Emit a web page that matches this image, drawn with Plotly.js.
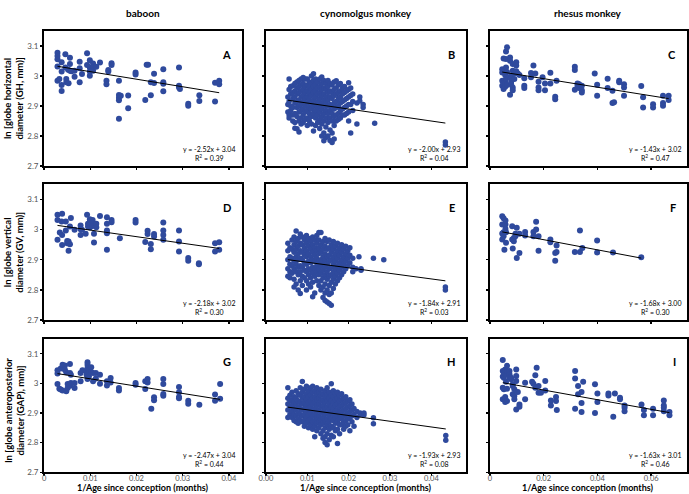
<!DOCTYPE html>
<html>
<head>
<meta charset="utf-8">
<script src="https://cdn.plot.ly/plotly-3.0.1.min.js"></script>
<style>
	html, body { margin: 0; padding: 0; background: #fff; }
	#plotDiv { width: 689px; height: 494px; }
</style>
</head>
<body>
<div id="plotDiv"></div>
<script>
// Labels
const speciesNames = ["baboon", "cynomolgus monkey", "rhesus monkey"];
const rowTitles = [
	"ln [globe horizontal<br>diameter (GH, mm)]",
	"ln [globe vertical<br>diameter (GV, mm)]",
	"ln [globe anteroposterior<br>diameter (GAP), mm)]",
];
const xTitle = "1/Age since conception (months)";
const panelLetters = ["A", "B", "C", "D", "E", "F", "G", "H", "I"];

// Regression results printed in each panel
const slopes = [-2.52, -2.0, -1.43, -2.18, -1.84, -1.68, -2.47, -1.93, -1.63];
const intercepts = [3.04, 2.93, 3.02, 3.02, 2.91, 3.0, 3.04, 2.93, 3.01];
const rSquared = ["0.39", "0.04", "0.47", "0.30", "0.03", "0.30", "0.44", "0.08", "0.46"];

// Axis ticks
const yTickVals = [2.7, 2.8, 2.9, 3.0, 3.1];
const yTickText = ["2.7", "2.8", "2.9", "3", "3.1"];
const xTickVals = [
	[0, 0.01, 0.02, 0.03, 0.04],
	[0, 0.01, 0.02, 0.03, 0.04],
	[0, 0.02, 0.04, 0.06],
];
const xTickText = [
	["0", "0.01", "0.02", "0.03", "0.04"],
	["0.00", "0.01", "0.02", "0.03", "0.04"],
	["0", "0.02", "0.04", "0.06"],
];
const xMax = [0.0428, 0.0485, 0.0733];

// Data: [1/age, [ln values at that 1/age]]
const baboonGH = [
	[0.0029, [3.078, 3.067, 3.056, 3.032, 2.984]], [0.0033, [2.99]],
	[0.0038, [3.046, 3.015, 2.97, 2.95]], [0.0046, [3.073, 3.029]],
	[0.0048, [2.99, 2.979]], [0.0052, [3.021]], [0.0053, [2.976]],
	[0.0056, [3.061, 3.04, 3.018]], [0.0059, [3.016]], [0.0066, [2.998, 3.018]],
	[0.0077, [3.048, 3.026, 2.979]], [0.0082, [3.007]], [0.0093, [3.076, 3.037]],
	[0.0099, [3.053, 3.029, 3.015, 3.001]], [0.0106, [3.042, 3.029, 3.018]],
	[0.0113, [3.031]], [0.0121, [3.045]], [0.0135, [2.984, 2.973]],
	[0.0139, [3.02, 3.015]], [0.0146, [3.043, 3.037]],
	[0.0162, [2.984, 2.937, 2.928, 2.919, 2.858]], [0.0166, [2.934]],
	[0.0182, [2.935, 2.893]], [0.0198, [3.012, 3.005]], [0.0219, [2.92]],
	[0.0222, [3.038]], [0.0225, [3.038]], [0.0231, [2.979, 2.936]],
	[0.0238, [3.008, 2.977]], [0.0258, [3.023, 2.979, 2.974, 2.949]],
	[0.0292, [3.029, 2.968, 2.962]], [0.0294, [2.957]], [0.0312, [2.908, 2.901]],
	[0.0336, [2.936, 2.917]], [0.037, [2.978, 2.915]], [0.0379, [2.984, 2.973]],
];
const baboonGV = [
	[0.0029, [3.049, 3.032, 2.966]], [0.0034, [2.99]], [0.0038, [3.027]],
	[0.0039, [3.052, 2.982, 2.949]], [0.0047, [3.027, 2.997]], [0.005, [2.962, 2.955]],
	[0.0053, [2.96, 2.93]], [0.0056, [3.01, 2.951]], [0.0058, [3.038]], [0.0066, [2.999]],
	[0.0079, [3.013, 3.001, 2.982]], [0.0082, [2.999]], [0.009, [2.986]], [0.0093, [3.049]],
	[0.0095, [3.019, 3.01]], [0.0099, [3.034, 3.027, 3.015, 3.007]],
	[0.0105, [3.032, 3.023, 3.012]], [0.0108, [2.957, 2.986]], [0.0113, [3.019, 3.008]],
	[0.0121, [3.045]], [0.0136, [3.041, 3.019, 2.997, 2.988, 2.933]],
	[0.0146, [3.032, 3.024]], [0.0164, [2.971]], [0.0198, [3.032, 3.023]],
	[0.0219, [2.959]], [0.0224, [2.996, 2.985]], [0.0231, [2.952, 2.935]],
	[0.0238, [2.985, 2.977]], [0.0258, [3.023, 2.997, 2.982, 2.966]],
	[0.0292, [2.997, 2.96, 2.927]], [0.0312, [2.906, 2.897]], [0.0335, [2.888, 2.885]],
	[0.037, [2.955, 2.927]], [0.0379, [2.958, 2.933]],
];
const baboonGAP = [
	[0.0029, [3.044, 3.033, 2.998]], [0.0033, [2.982]], [0.0036, [3.05, 2.979]],
	[0.004, [3.063, 2.976]], [0.0045, [3.06, 3.046]], [0.0048, [3.037, 2.973]],
	[0.0051, [2.998, 2.984]], [0.0056, [3.065, 3.035, 2.992]], [0.0058, [3.029, 3.001]],
	[0.0066, [3.001, 2.984]], [0.0079, [3.035, 3.007]], [0.0083, [3.044]],
	[0.0092, [3.041, 3.029]], [0.0094, [3.071, 3.063, 3.052, 3.024, 3.015]],
	[0.0097, [3.046, 3.035, 3.024]], [0.0102, [3.054, 3.037]], [0.0106, [3.035, 3.007]],
	[0.0112, [3.035, 3.016]], [0.0121, [3.029, 2.999]], [0.0136, [3.007, 2.993]],
	[0.0144, [3.018, 3.003]], [0.0162, [2.984, 2.976]], [0.0198, [3.001, 2.995]],
	[0.0219, [3.007, 2.981]], [0.0224, [3.015, 3.003]], [0.0232, [2.914]],
	[0.0238, [2.953, 2.943]], [0.0258, [3.015, 2.998, 2.964, 2.958]],
	[0.0292, [2.988, 2.97, 2.954, 2.95]], [0.0312, [2.941, 2.931]], [0.0336, [2.928]],
	[0.037, [2.962, 2.941]], [0.0381, [2.998, 2.948]],
];

const cynoGH = [
	[0.0053, [2.93, 2.905, 2.88]], [0.0056, [2.99, 2.955, 2.915, 2.87, 2.86]],
	[0.006, [2.965, 2.94, 2.9, 2.885]],
	[0.0065, [2.968, 2.945, 2.925, 2.895, 2.87, 2.85]],
	[0.007, [2.975, 2.95, 2.93, 2.91, 2.875, 2.845, 2.826]],
	[0.0075, [2.98, 2.96, 2.94, 2.915, 2.895, 2.865, 2.824]],
	[0.008, [2.985, 2.965, 2.945, 2.92, 2.9, 2.88, 2.85, 2.813]],
	[0.0085, [2.99, 2.97, 2.95, 2.93, 2.905, 2.885, 2.86, 2.84]],
	[0.009, [2.995, 2.975, 2.955, 2.935, 2.915, 2.89, 2.87, 2.845]],
	[0.0095, [2.99, 2.965, 2.945, 2.925, 2.9, 2.88, 2.855]],
	[0.01, [2.99, 2.97, 2.95, 2.93, 2.91, 2.885, 2.86, 2.835]],
	[0.0105, [2.98, 2.96, 2.94, 2.92, 2.895, 2.875, 2.85]],
	[0.011, [3.0, 2.975, 2.955, 2.935, 2.91, 2.89, 2.865, 2.84]],
	[0.0115, [3.008, 2.985, 2.965, 2.945, 2.92, 2.9, 2.875, 2.817]],
	[0.012, [2.99, 2.97, 2.95, 2.93, 2.905, 2.885, 2.86, 2.835]],
	[0.0125, [2.98, 2.96, 2.94, 2.915, 2.895, 2.87, 2.845]],
	[0.013, [2.99, 2.965, 2.945, 2.925, 2.9, 2.88, 2.855, 2.825]],
	[0.0135, [2.997, 2.975, 2.955, 2.935, 2.91, 2.89, 2.865, 2.84, 2.8]],
	[0.014, [2.985, 2.96, 2.94, 2.92, 2.9, 2.875, 2.85, 2.81, 2.784]],
	[0.0145, [2.975, 2.955, 2.93, 2.91, 2.885, 2.86, 2.83, 2.795]],
	[0.015, [2.985, 2.965, 2.945, 2.92, 2.9, 2.875, 2.845, 2.8]],
	[0.0155, [2.975, 2.95, 2.93, 2.905, 2.885, 2.86, 2.82, 2.785]],
	[0.016, [2.97, 2.945, 2.925, 2.9, 2.875, 2.85, 2.81, 2.778]],
	[0.0165, [2.98, 2.955, 2.935, 2.91, 2.89, 2.865, 2.835, 2.79]],
	[0.017, [2.984, 2.96, 2.94, 2.915, 2.895, 2.87, 2.85]],
	[0.0175, [2.97, 2.945, 2.925, 2.9, 2.875, 2.855]],
	[0.018, [2.975, 2.95, 2.93, 2.91, 2.885, 2.86]],
	[0.0185, [2.96, 2.94, 2.915, 2.89, 2.87]],
	[0.019, [2.965, 2.945, 2.92, 2.895, 2.87]],
	[0.0195, [2.95, 2.925, 2.9, 2.875]],
	[0.02, [2.978, 2.955, 2.93, 2.905, 2.88, 2.85]],
	[0.0205, [2.96, 2.935, 2.905, 2.81]], [0.021, [2.94, 2.915, 2.885]],
	[0.022, [2.91, 2.84]], [0.0227, [2.93, 2.917]], [0.0235, [2.905, 2.895]],
	[0.0263, [2.843]], [0.0434, [2.78, 2.77]],
];
const cynoGV = [
	[0.0053, [2.955, 2.93, 2.9, 2.87, 2.845]], [0.0058, [2.94, 2.91, 2.885, 2.86, 2.84]],
	[0.0063, [2.965, 2.935, 2.905, 2.88, 2.855]],
	[0.0068, [2.975, 2.95, 2.925, 2.895, 2.87, 2.835, 2.81]],
	[0.0073, [2.995, 2.96, 2.935, 2.91, 2.885, 2.86, 2.82]],
	[0.0078, [2.97, 2.945, 2.92, 2.9, 2.875, 2.85, 2.8]],
	[0.0083, [2.985, 2.955, 2.93, 2.905, 2.88, 2.86, 2.83, 2.788]],
	[0.0088, [2.975, 2.95, 2.925, 2.9, 2.875, 2.845, 2.815]],
	[0.0093, [2.965, 2.94, 2.915, 2.89, 2.865, 2.84]],
	[0.0098, [2.98, 2.955, 2.93, 2.91, 2.885, 2.86, 2.83, 2.8]],
	[0.0103, [2.97, 2.945, 2.92, 2.895, 2.87, 2.85, 2.82]],
	[0.0108, [2.96, 2.935, 2.91, 2.89, 2.865, 2.84, 2.81]],
	[0.0113, [2.975, 2.95, 2.925, 2.9, 2.875, 2.855, 2.825, 2.777]],
	[0.0118, [2.965, 2.94, 2.915, 2.895, 2.87, 2.845, 2.79]],
	[0.0123, [2.98, 2.955, 2.93, 2.905, 2.88, 2.86, 2.83]],
	[0.0128, [2.99, 2.965, 2.94, 2.92, 2.895, 2.87, 2.85, 2.815]],
	[0.0133, [2.99, 2.95, 2.925, 2.9, 2.88, 2.855, 2.83, 2.8]],
	[0.0138, [2.96, 2.935, 2.91, 2.89, 2.865, 2.84, 2.81, 2.775]],
	[0.0143, [2.97, 2.945, 2.92, 2.9, 2.875, 2.85, 2.82, 2.79, 2.765]],
	[0.0148, [2.96, 2.935, 2.91, 2.885, 2.86, 2.835, 2.8, 2.76]],
	[0.0153, [2.965, 2.94, 2.915, 2.895, 2.87, 2.845, 2.815, 2.785, 2.755]],
	[0.0158, [2.95, 2.925, 2.9, 2.875, 2.85, 2.825, 2.79, 2.749]],
	[0.0163, [2.96, 2.935, 2.91, 2.885, 2.86, 2.835, 2.805]],
	[0.0168, [2.945, 2.92, 2.895, 2.87, 2.845, 2.82]],
	[0.0173, [2.955, 2.93, 2.905, 2.88, 2.855, 2.83]],
	[0.0178, [2.94, 2.915, 2.89, 2.865, 2.84]],
	[0.0183, [2.95, 2.925, 2.9, 2.875, 2.85]],
	[0.0188, [2.935, 2.91, 2.885, 2.86]],
	[0.0193, [2.945, 2.92, 2.895, 2.87]],
	[0.0198, [2.93, 2.905, 2.88]], [0.0203, [2.94, 2.915, 2.89]],
	[0.021, [2.905, 2.875, 2.86]], [0.0218, [2.87]], [0.0225, [2.91]],
	[0.023, [2.87, 2.865]], [0.026, [2.905]], [0.0285, [2.9]], [0.0434, [2.81, 2.8]],
];
const cynoGAP = [
	[0.0053, [2.985, 2.95, 2.93, 2.91, 2.885]], [0.0058, [2.96, 2.94, 2.92, 2.895]],
	[0.0063, [2.97, 2.945, 2.925, 2.905, 2.885]],
	[0.0068, [2.955, 2.935, 2.915, 2.895, 2.875]],
	[0.0073, [2.975, 2.95, 2.93, 2.91, 2.89, 2.87]],
	[0.0078, [2.965, 2.94, 2.92, 2.9, 2.88, 2.865]],
	[0.0083, [2.985, 2.96, 2.935, 2.915, 2.895, 2.875]],
	[0.0088, [3.006, 2.97, 2.95, 2.93, 2.91, 2.89, 2.87]],
	[0.0093, [2.98, 2.955, 2.935, 2.915, 2.895, 2.875, 2.855]],
	[0.0098, [2.99, 2.965, 2.945, 2.925, 2.905, 2.885, 2.865]],
	[0.0103, [2.975, 2.955, 2.935, 2.915, 2.895, 2.875, 2.85]],
	[0.0108, [2.985, 2.96, 2.94, 2.92, 2.9, 2.88, 2.86]],
	[0.0113, [2.99, 2.97, 2.95, 2.93, 2.91, 2.89, 2.87, 2.845]],
	[0.0118, [2.975, 2.955, 2.935, 2.915, 2.895, 2.875, 2.855, 2.82]],
	[0.0123, [2.985, 2.965, 2.945, 2.925, 2.905, 2.885, 2.865, 2.84]],
	[0.0128, [2.97, 2.95, 2.93, 2.91, 2.89, 2.87, 2.85]],
	[0.0133, [2.98, 2.96, 2.94, 2.92, 2.9, 2.88, 2.86, 2.83]],
	[0.0138, [2.965, 2.945, 2.925, 2.905, 2.885, 2.865, 2.84, 2.815]],
	[0.0143, [2.975, 2.955, 2.935, 2.915, 2.895, 2.875, 2.85, 2.82, 2.8]],
	[0.0148, [2.985, 2.96, 2.94, 2.92, 2.9, 2.88, 2.86, 2.83, 2.793]],
	[0.0153, [2.97, 2.95, 2.93, 2.91, 2.89, 2.87, 2.845, 2.81]],
	[0.0158, [2.999, 2.96, 2.94, 2.92, 2.9, 2.88, 2.855, 2.825]],
	[0.0163, [2.975, 2.955, 2.935, 2.915, 2.895, 2.875, 2.85, 2.82]],
	[0.0168, [2.965, 2.945, 2.925, 2.905, 2.885, 2.865, 2.84]],
	[0.0173, [2.97, 2.95, 2.93, 2.91, 2.89, 2.87, 2.845, 2.797]],
	[0.0178, [2.96, 2.94, 2.92, 2.9, 2.88, 2.86, 2.83]],
	[0.0183, [2.965, 2.945, 2.925, 2.905, 2.885, 2.86]],
	[0.0188, [2.95, 2.93, 2.91, 2.89, 2.87, 2.845]],
	[0.0193, [2.955, 2.935, 2.915, 2.895, 2.875, 2.855]],
	[0.0198, [2.94, 2.92, 2.9, 2.88, 2.86]],
	[0.0203, [2.945, 2.925, 2.905, 2.885, 2.84]],
	[0.0208, [2.93, 2.91, 2.89, 2.87]], [0.0213, [2.915, 2.895, 2.855]],
	[0.022, [2.905, 2.885]], [0.0228, [2.9, 2.895]], [0.0237, [2.9, 2.893]],
	[0.026, [2.884, 2.864]], [0.0435, [2.824, 2.808]],
];

const rhesusGH = [
	[0.0046, [3.023, 3.012, 2.984, 2.968]], [0.0051, [3.059, 3.016, 2.975, 2.957]],
	[0.0057, [3.004, 2.979, 2.964]], [0.006, [3.082, 3.057, 3.029, 2.99]],
	[0.0064, [3.096, 3.014, 2.97]], [0.0075, [3.062, 3.051, 2.996, 2.938]],
	[0.0079, [2.981, 3.001, 2.973]], [0.0085, [3.04, 3.018, 2.962, 2.953]],
	[0.0091, [3.009, 2.99]], [0.0098, [3.046, 3.035, 3.016]], [0.0104, [3.009]],
	[0.011, [3.004]], [0.0128, [2.993, 2.968, 2.96]], [0.0153, [3.01, 2.996]],
	[0.0162, [3.035]], [0.0169, [3.009]], [0.0181, [2.981, 2.962, 2.953]],
	[0.0196, [2.996]], [0.0205, [2.975, 2.953]], [0.0225, [3.011, 2.975]],
	[0.0243, [2.931, 2.923]], [0.0248, [2.984]], [0.0316, [3.031, 3.02, 2.954]],
	[0.0326, [2.975, 2.968]], [0.0332, [2.973, 2.96]], [0.0342, [2.968, 2.953, 2.945]],
	[0.039, [3.009]], [0.0399, [2.971, 2.934]], [0.0438, [2.991, 2.96]],
	[0.0456, [2.951, 2.91]], [0.0462, [2.913]], [0.0481, [2.984, 2.979]],
	[0.0499, [2.973, 2.962, 2.934]], [0.0563, [2.967]], [0.057, [2.929, 2.895]],
	[0.0607, [2.906, 2.895]], [0.0644, [2.934, 2.91, 2.901]], [0.0665, [2.934, 2.92]],
];
const rhesusGV = [
	[0.0046, [3.044, 3.017, 2.987, 2.967]], [0.0051, [3.037, 2.991, 2.978]],
	[0.0054, [2.933]], [0.0058, [3.017, 3.002, 3.03]], [0.006, [2.991, 2.956]],
	[0.0083, [3.011, 2.967]], [0.0085, [2.937]], [0.0089, [2.961, 2.972]],
	[0.0095, [2.978, 2.986]], [0.01, [3.006, 2.906]], [0.011, [2.986, 2.922]],
	[0.0131, [2.992, 2.98]], [0.0162, [2.992, 2.978]], [0.0172, [3.026, 3.0]],
	[0.0181, [2.93, 2.978]], [0.0225, [2.967, 2.958]], [0.0243, [2.922, 2.897]],
	[0.0248, [2.947, 2.926]], [0.0316, [2.926]], [0.0335, [2.997, 2.926]],
	[0.0344, [2.939]], [0.0399, [2.964, 2.924]], [0.0458, [2.924]], [0.0563, [2.908]],
];
const rhesusGAP = [
	[0.0048, [3.079, 3.042, 3.023, 2.985, 2.946]], [0.0052, [3.036, 3.019, 2.98]],
	[0.0057, [3.047, 2.954, 2.937]], [0.006, [3.031, 3.005]],
	[0.0064, [3.059, 3.042, 2.982, 2.94]], [0.0073, [3.042, 3.031, 3.019]],
	[0.0079, [3.019, 3.014]], [0.0085, [2.997, 2.963, 2.991]],
	[0.0091, [2.98, 2.957, 2.946]], [0.0098, [3.047, 3.025, 3.008, 2.912]],
	[0.0104, [2.971]], [0.011, [2.929, 2.921]], [0.0131, [3.002, 2.946]],
	[0.0157, [3.005]], [0.0162, [2.999]], [0.0169, [3.027, 2.985]], [0.0174, [3.053]],
	[0.0181, [2.991, 2.968]], [0.019, [2.968]], [0.0206, [3.008, 2.976]],
	[0.0227, [2.942, 2.925]], [0.0246, [2.954, 2.94]], [0.0249, [2.91]],
	[0.0317, [3.042, 3.016, 2.914]], [0.0328, [2.991, 2.963]],
	[0.0341, [2.971, 2.934, 2.903]], [0.0347, [3.005]], [0.0391, [2.997, 2.9]],
	[0.04, [2.966, 2.937]], [0.0441, [2.966, 2.959]], [0.0459, [2.887]],
	[0.0465, [2.966]], [0.0484, [2.951, 2.946]], [0.0501, [2.925, 2.918, 2.906]],
	[0.0564, [2.929]], [0.0573, [2.91, 2.892]], [0.0607, [2.914, 2.892]],
	[0.0647, [2.942, 2.925, 2.918, 2.906]], [0.0668, [2.903, 2.892]],
];

const panelData = [
	baboonGH, cynoGH, rhesusGH,
	baboonGV, cynoGV, rhesusGV,
	baboonGAP, cynoGAP, rhesusGAP,
];

// Layout geometry (paper fractions)
const colDomains = [[0.064, 0.351], [0.386, 0.677], [0.711, 0.997]];
const rowDomains = [[0.664, 0.937], [0.352, 0.627], [0.044, 0.314]];
const rowTitleY = [0.80, 0.49, 0.17];

const markerColor = "#2f4a9d";
const fontFamily = "Lato, 'Open Sans', sans-serif";

function flattenColumns(cols) {
	const x = [];
	const y = [];
	cols.forEach(([cx, ys]) => {
		ys.forEach((v) => {
			x.push(cx);
			y.push(v);
		});
	});
	return { x, y };
}

const traces = [];
const annotations = [];
const layout = {
	width: 689,
	height: 494,
	margin: { l: 0, r: 0, t: 0, b: 0 },
	paper_bgcolor: "#ffffff",
	plot_bgcolor: "#ffffff",
	showlegend: false,
	font: { family: fontFamily, color: "#000" },
	annotations: annotations,
};

panelData.forEach((cols, i) => {
	const row = Math.floor(i / 3);
	const col = i % 3;
	const n = i === 0 ? "" : String(i + 1);
	const xa = "x" + n;
	const ya = "y" + n;
	const pts = flattenColumns(cols);

	traces.push({
		x: pts.x,
		y: pts.y,
		type: "scatter",
		mode: "markers",
		xaxis: xa,
		yaxis: ya,
		marker: { color: markerColor, size: col === 1 ? 5.5 : 6 },
		hoverinfo: "x+y",
	});

	// Best fit line from the printed equation over the data range
	const minX = Math.min(...pts.x);
	const maxX = Math.max(...pts.x);
	traces.push({
		x: [minX, maxX],
		y: [minX, maxX].map((v) => slopes[i] * v + intercepts[i]),
		type: "scatter",
		mode: "lines",
		xaxis: xa,
		yaxis: ya,
		line: { color: "#000", width: 1 },
		hoverinfo: "skip",
	});

	layout["xaxis" + n] = {
		domain: colDomains[col],
		anchor: ya,
		range: [0, xMax[col]],
		tickvals: xTickVals[col],
		ticktext: xTickText[col],
		showticklabels: row === 2,
		ticks: "outside",
		ticklen: 2,
		tickwidth: 1.5,
		tickcolor: "#000",
		ticklabelstandoff: -4,
		showline: true,
		mirror: true,
		linecolor: "#000",
		linewidth: 2,
		showgrid: false,
		zeroline: false,
		tickfont: { size: 7.5, color: "#555", family: fontFamily },
	};
	layout["yaxis" + n] = {
		domain: rowDomains[row],
		anchor: xa,
		range: [2.7, 3.15],
		tickvals: yTickVals,
		ticktext: yTickText,
		showticklabels: col === 0,
		ticks: "outside",
		ticklen: 2,
		tickwidth: 1.5,
		tickcolor: "#000",
		showline: true,
		mirror: true,
		linecolor: "#000",
		linewidth: 2,
		showgrid: false,
		zeroline: false,
		tickfont: { size: 8, color: "#555", family: fontFamily },
	};

	// Panel letter
	annotations.push({
		xref: xa + " domain",
		yref: ya + " domain",
		x: 0.955,
		y: 0.83,
		xanchor: "right",
		yanchor: "middle",
		text: "<b>" + panelLetters[i] + "</b>",
		showarrow: false,
		font: { size: 11, color: "#000" },
	});
	// Equation and R squared
	const sign = intercepts[i] >= 0 ? "+" : "-";
	annotations.push({
		xref: xa + " domain",
		yref: ya + " domain",
		x: 0.978,
		y: 0.015,
		xanchor: "right",
		yanchor: "bottom",
		align: "center",
		text:
			"y = " + slopes[i].toFixed(2) + "x " + sign + " " + Math.abs(intercepts[i]).toFixed(2) +
			"<br>R<sup>2</sup> = " + rSquared[i],
		showarrow: false,
		font: { size: 7, color: "#000" },
	});

	if (row === 0) {
		annotations.push({
			xref: xa + " domain",
			yref: "paper",
			x: 0.5,
			y: 0.974,
			yanchor: "middle",
			text: "<b>" + speciesNames[col] + "</b>",
			showarrow: false,
			font: { size: 10, color: "#000" },
		});
	}
	if (row === 2) {
		annotations.push({
			xref: xa + " domain",
			yref: "paper",
			x: 0.5,
			y: 0.0,
			yanchor: "bottom",
			borderpad: 0,
			text: "<b>" + xTitle + "</b>",
			showarrow: false,
			font: { size: 9, color: "#000" },
		});
	}
	if (col === 0) {
		annotations.push({
			xref: "paper",
			yref: "paper",
			x: 0.02,
			y: rowTitleY[row],
			xanchor: "center",
			yanchor: "middle",
			textangle: -90,
			text: "<b>" + rowTitles[row] + "</b>",
			showarrow: false,
			font: { size: 9.5, color: "#000" },
		});
	}
});

Plotly.newPlot("plotDiv", traces, layout, { staticPlot: true });
</script>
</body>
</html>
